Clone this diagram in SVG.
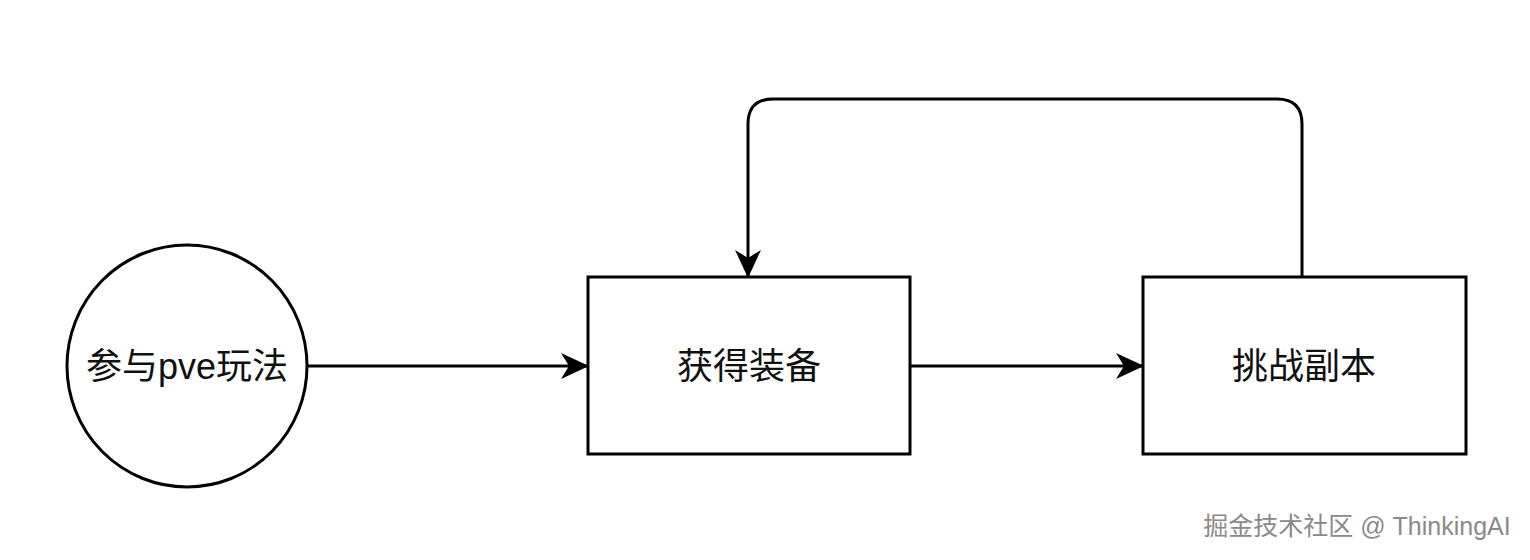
<svg xmlns="http://www.w3.org/2000/svg" width="1530" height="560" viewBox="0 0 1530 560">
<defs>
<marker id="arr" viewBox="0 0 28 26" refX="27" refY="13" markerWidth="28" markerHeight="26" markerUnits="userSpaceOnUse" orient="auto">
<path d="M0,0 L28,13 L0,26 L8,13 Z" fill="#000"/>
</marker>
<style>
.shape{fill:#fff;stroke:#000;stroke-width:3}
.lbl{font-family:"Liberation Sans","Noto Sans CJK SC",sans-serif;font-size:36px;fill:#111;text-anchor:middle;dominant-baseline:central}
.edge{fill:none;stroke:#000;stroke-width:3}
</style>
</defs>
<rect width="1530" height="560" fill="#fff"/>
<g id="n-pve">
<ellipse class="shape" cx="187" cy="366" rx="120" ry="121"/>
<text class="lbl" x="187" y="366">参与pve玩法</text>
</g>
<g id="n-equip">
<rect class="shape" x="588" y="277" width="322" height="177"/>
<text class="lbl" x="749" y="366">获得装备</text>
</g>
<g id="n-dungeon">
<rect class="shape" x="1143" y="277" width="323" height="177"/>
<text class="lbl" x="1304" y="366">挑战副本</text>
</g>
<g id="connectors">
<path class="edge" d="M308,366 L588,366" marker-end="url(#arr)"/>
<path class="edge" d="M910,366 L1143,366" marker-end="url(#arr)"/>
<path class="edge" d="M1302,277 L1302,124 Q1302,99 1277,99 L773,99 Q748,99 748,124 L748,277" marker-end="url(#arr)"/>
</g>
<text x="1357" y="526" font-family="Liberation Sans,'Noto Sans CJK SC',sans-serif" font-size="25" fill="#fff" text-anchor="middle" dominant-baseline="central" transform="translate(1,1)">掘金技术社区 @ ThinkingAI</text>
<text x="1357" y="526" font-family="Liberation Sans,'Noto Sans CJK SC',sans-serif" font-size="25" fill="#8a8a8a" text-anchor="middle" dominant-baseline="central">掘金技术社区 @ ThinkingAI</text>
</svg>
